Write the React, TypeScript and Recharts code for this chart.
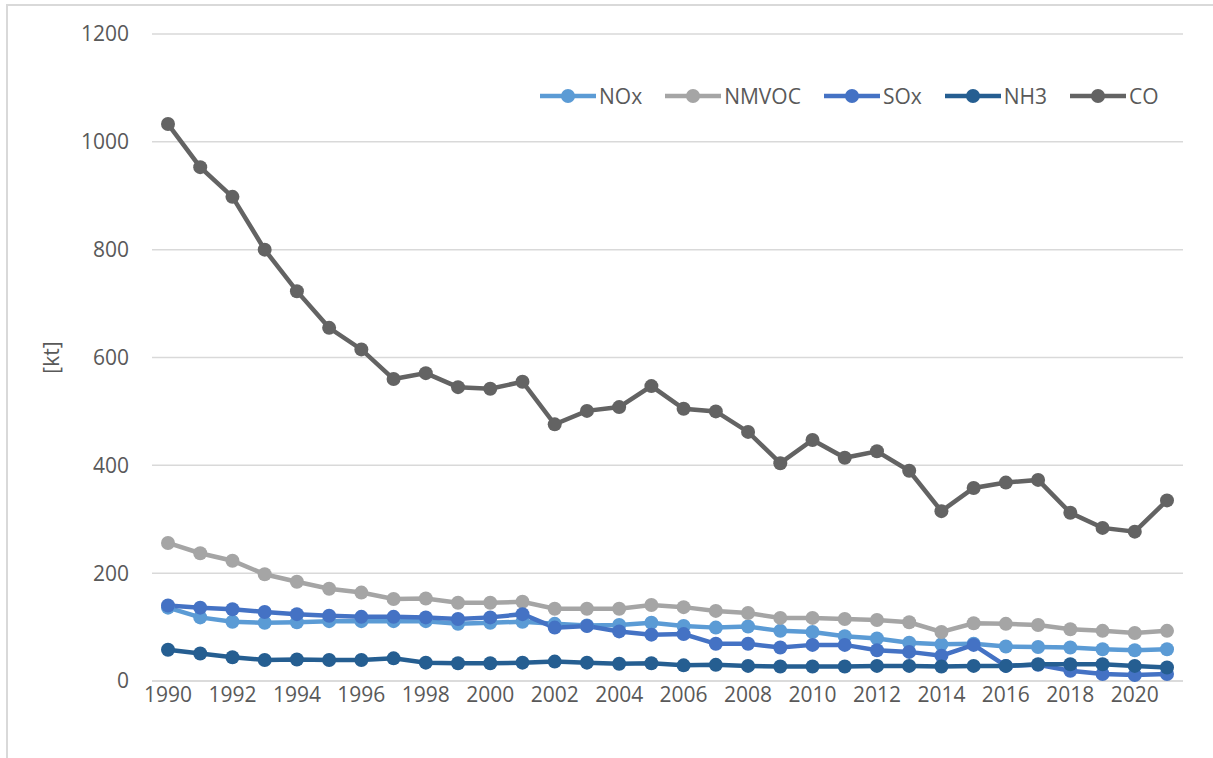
import React from 'react';
import { LineChart, Line, XAxis, YAxis, CartesianGrid, Legend, Label } from 'recharts';

const YEARS = [
  1990, 1991, 1992, 1993, 1994, 1995, 1996, 1997, 1998, 1999, 2000, 2001, 2002, 2003, 2004, 2005,
  2006, 2007, 2008, 2009, 2010, 2011, 2012, 2013, 2014, 2015, 2016, 2017, 2018, 2019, 2020, 2021,
];

const NOX = [
  136, 118, 110, 108, 109, 111, 111, 111, 111, 106, 108, 110, 106, 103, 104, 108,
  102, 99, 101, 93, 91, 83, 79, 71, 68, 69, 64, 63, 62, 59, 57, 59,
];
const NMVOC = [
  256, 237, 223, 198, 184, 171, 164, 152, 153, 145, 145, 147, 134, 134, 134, 141,
  137, 130, 126, 117, 117, 115, 113, 109, 91, 107, 106, 104, 96, 93, 89, 93,
];
const SOX = [
  140, 136, 133, 128, 124, 121, 119, 119, 118, 115, 118, 124, 99, 102, 92, 86,
  87, 69, 69, 62, 67, 67, 57, 54, 47, 67, 28, 30, 19, 13, 11, 13,
];
const NH3 = [
  58, 51, 44, 39, 40, 39, 39, 42, 34, 33, 33, 34, 36, 34, 32, 33,
  29, 30, 28, 27, 27, 27, 28, 28, 27, 28, 28, 31, 31, 31, 28, 25,
];
const CO = [
  1033, 953, 898, 800, 723, 655, 615, 560, 571, 545, 542, 555, 476, 501, 508, 547,
  505, 500, 462, 404, 447, 414, 426, 390, 315, 358, 368, 373, 312, 284, 277, 335,
];

const Y_TICKS = [0, 200, 400, 600, 800, 1000, 1200];

const SERIES = [
  { key: 'NOx', color: '#5b9bd5' },
  { key: 'NMVOC', color: '#a5a5a5' },
  { key: 'SOx', color: '#4472c4' },
  { key: 'NH3', color: '#255e91' },
  { key: 'CO', color: '#636363' },
];

const data = YEARS.map((year, i) => ({
  year: String(year),
  NOx: NOX[i],
  NMVOC: NMVOC[i],
  SOx: SOX[i],
  NH3: NH3[i],
  CO: CO[i],
}));

const FONT = '"Open Sans", sans-serif';
const FONT_SIZE = 21;
const TEXT_COLOR = '#595959';
const GRID_COLOR = '#d9d9d9';

function LegendRow() {
  return (
    <div style={{ display: 'flex', alignItems: 'center', gap: 23, fontFamily: FONT, fontSize: FONT_SIZE, color: TEXT_COLOR }}>
      {SERIES.map((s) => (
        <div key={s.key} style={{ display: 'flex', alignItems: 'center' }}>
          <svg width={56} height={20}>
            <line x1={0} y1={10} x2={56} y2={10} stroke={s.color} strokeWidth={4.5} strokeLinecap="round" />
            <circle cx={28} cy={10} r={7} fill={s.color} />
          </svg>
          <span style={{ marginLeft: 3 }}>{s.key}</span>
        </div>
      ))}
    </div>
  );
}

export default function App() {
  return (
    <div style={{ position: 'absolute', left: 0, top: 0, width: 1213, height: 758, background: '#fff', overflow: 'hidden' }}>
      {/* chart frame, only left and top edges fall inside the picture */}
      <div
        style={{
          position: 'absolute',
          left: 6,
          top: 4,
          width: 1300,
          height: 900,
          border: `2px solid ${GRID_COLOR}`,
          boxSizing: 'border-box',
        }}
      />
      <LineChart
        width={1213}
        height={758}
        data={data}
        margin={{ top: 34, right: 30, bottom: 0, left: 0 }}
        style={{ position: 'absolute', left: 0, top: 0 }}
      >
        <CartesianGrid vertical={false} stroke={GRID_COLOR} strokeWidth={1.5} />
        <XAxis
          dataKey="year"
          height={77}
          interval={1}
          padding={{ left: 16, right: 16 }}
          axisLine={{ stroke: GRID_COLOR, strokeWidth: 1.5 }}
          tickLine={false}
          tickSize={0}
          tickMargin={6}
          tick={{ fill: TEXT_COLOR, fontSize: FONT_SIZE, fontFamily: FONT }}
        />
        <YAxis
          width={152}
          domain={[0, 1200]}
          ticks={Y_TICKS}
          axisLine={false}
          tickLine={false}
          tickSize={0}
          tickMargin={23}
          tick={{ fill: TEXT_COLOR, fontSize: FONT_SIZE, fontFamily: FONT }}
        >
          <Label
            value="[kt]"
            angle={-90}
            position="center"
            dx={-24}
            style={{ fill: TEXT_COLOR, fontSize: FONT_SIZE, fontFamily: FONT }}
          />
        </YAxis>
        <Legend
          layout="horizontal"
          verticalAlign="middle"
          align="center"
          content={() => <LegendRow />}
          wrapperStyle={{ top: 82, left: 540, width: 'auto' }}
        />
        {SERIES.map((s) => (
          <Line
            key={s.key}
            dataKey={s.key}
            name={s.key}
            stroke={s.color}
            strokeWidth={4.5}
            dot={{ r: 7, fill: s.color, stroke: s.color, strokeWidth: 0 }}
            activeDot={false}
            isAnimationActive={false}
          />
        ))}
      </LineChart>
    </div>
  );
}
